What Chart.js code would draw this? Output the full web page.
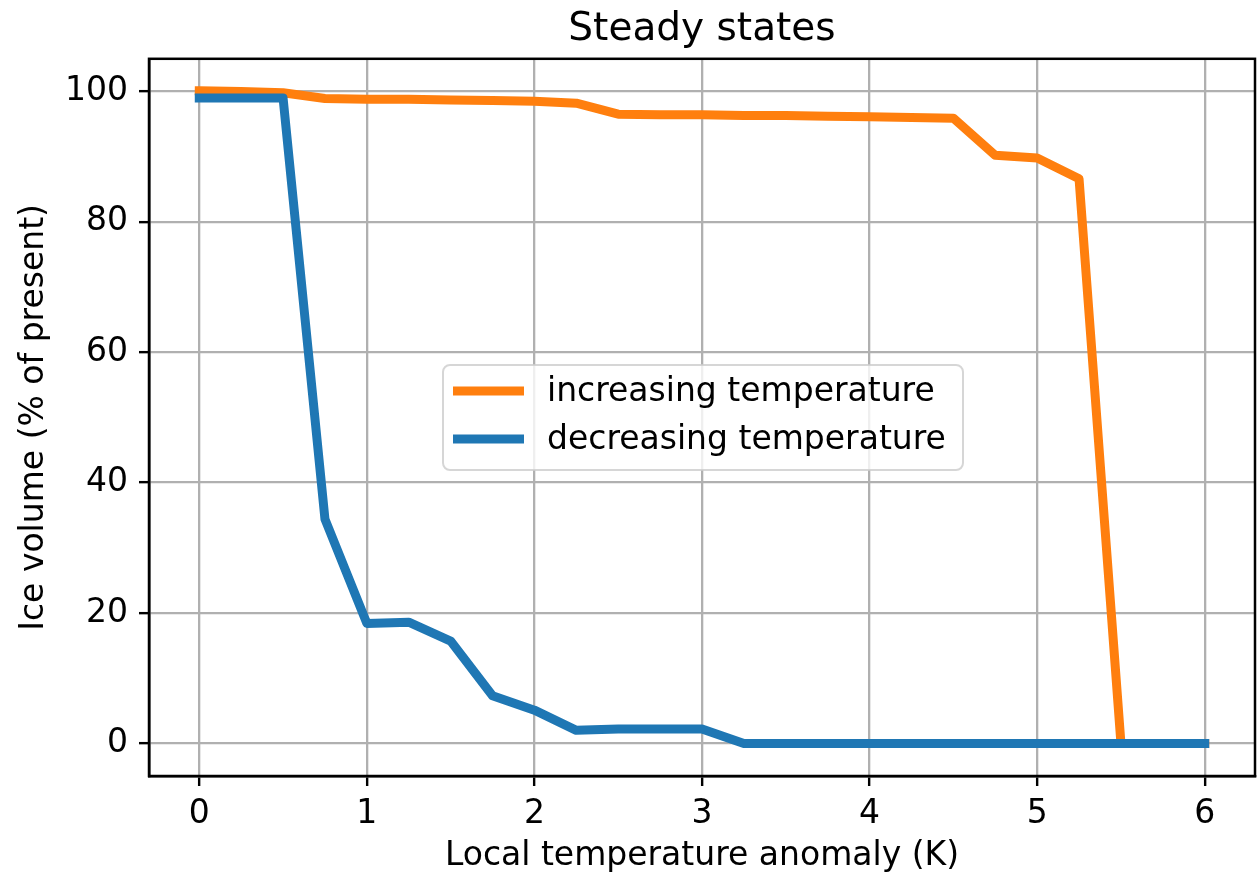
<!DOCTYPE html>
<html>
<head>
<meta charset="utf-8">
<script src="https://cdn.jsdelivr.net/npm/chart.js@4/dist/chart.umd.min.js"></script>
<style>
  body { margin: 0; background: #fff; }
</style>
</head>
<body>
<canvas id="chart" width="1259" height="876"></canvas>
<script>
// temperature anomaly (K)
const temps = [0, 0.25, 0.5, 0.75, 1, 1.25, 1.5, 1.75, 2, 2.25, 2.5, 2.75, 3,
               3.25, 3.5, 3.75, 4, 4.25, 4.5, 4.75, 5, 5.25, 5.5, 5.75, 6];
const increasing = [100.1, 100.0, 99.8, 98.9, 98.8, 98.8, 98.7, 98.6, 98.5, 98.2, 96.5, 96.4, 96.4,
                    96.3, 96.3, 96.2, 96.1, 96.0, 95.9, 90.2, 89.8, 86.6, 0, 0, 0];
const decreasing = [99.0, 99.0, 99.0, 34.4, 18.4, 18.6, 15.7, 7.3, 5.1, 2.0, 2.2, 2.2, 2.2,
                    0, 0, 0, 0, 0, 0, 0, 0, 0, 0, 0, 0];
const xTicks = [0, 1, 2, 3, 4, 5, 6];
const yTicks = [0, 20, 40, 60, 80, 100];

const font = "'DejaVu Sans', sans-serif";

function toPoints(ys) {
    let pts = [];
    for (let i = 0; i < temps.length; i++) {
        pts.push({x: temps[i], y: ys[i]});
    }
    return pts;
}

// frame round the plot area + legend inside it
const frameAndLegend = {
    id: 'frameAndLegend',
    afterDatasetsDraw(chart) {
        const ctx = chart.ctx;
        const a = chart.chartArea;
        ctx.save();
        ctx.strokeStyle = '#000';
        ctx.lineWidth = 2.5;
        ctx.strokeRect(a.left, a.top, a.right - a.left, a.bottom - a.top);

        // legend box
        const bx = 443, by = 365, bw = 520, bh = 105, r = 7;
        ctx.beginPath();
        ctx.roundRect(bx, by, bw, bh, r);
        ctx.fillStyle = 'rgba(255,255,255,0.8)';
        ctx.fill();
        ctx.strokeStyle = 'rgba(204,204,204,0.8)';
        ctx.lineWidth = 2;
        ctx.stroke();

        ctx.font = '33px ' + font;
        ctx.textBaseline = 'middle';
        ctx.textAlign = 'left';
        chart.data.datasets.forEach((ds, i) => {
            const y = 391 + i * 48;
            ctx.beginPath();
            ctx.moveTo(453, y);
            ctx.lineTo(524, y);
            ctx.strokeStyle = ds.borderColor;
            ctx.lineWidth = 9;
            ctx.lineCap = 'butt';
            ctx.stroke();
            ctx.fillStyle = '#000';
            ctx.fillText(ds.label, 547, y + 1);
        });
        ctx.restore();
    }
};

let ctx = document.querySelector('#chart').getContext('2d');
let myChart = new Chart(ctx, {
    type: 'line',
    data: {
        datasets: [{
            label: 'increasing temperature',
            data: toPoints(increasing),
            borderColor: '#ff7f0e',
            order: 1
        }, {
            label: 'decreasing temperature',
            data: toPoints(decreasing),
            borderColor: '#1f77b4',
            order: 0
        }]
    },
    options: {
        responsive: false,
        animation: false,
        devicePixelRatio: 1,
        layout: { padding: { left: 0, right: 4, top: 0, bottom: 0 } },
        elements: {
            point: { radius: 0 },
            line: { borderWidth: 9, tension: 0, borderCapStyle: 'square', borderJoinStyle: 'round', fill: false }
        },
        plugins: {
            legend: { display: false },
            tooltip: { enabled: false },
            title: {
                display: true,
                fullSize: false,
                text: 'Steady states',
                color: '#000',
                font: { family: font, size: 39, weight: 'normal' },
                padding: { top: 6, bottom: 6 }
            }
        },
        scales: {
            x: {
                type: 'linear',
                min: -0.3,
                max: 6.3,
                afterBuildTicks: (s) => { s.ticks = xTicks.map(v => ({value: v})); },
                afterFit: (s) => { s.height = 100; },
                ticks: {
                    color: '#000',
                    font: { family: font, size: 33 },
                    padding: 9,
                    maxRotation: 0
                },
                grid: { color: '#b0b0b0', lineWidth: 2.3, tickLength: 10, tickColor: '#000', tickWidth: 2.4 },
                border: { color: '#000', width: 2.5 },
                title: {
                    display: true,
                    text: 'Local temperature anomaly (K)',
                    color: '#000',
                    font: { family: font, size: 33 },
                    padding: { top: 0, bottom: 0 }
                }
            },
            y: {
                type: 'linear',
                min: -5,
                max: 105,
                afterBuildTicks: (s) => { s.ticks = yTicks.map(v => ({value: v})); },
                afterFit: (s) => { s.width = 149; },
                ticks: {
                    color: '#000',
                    font: { family: font, size: 33 },
                    padding: 11
                },
                grid: { color: '#b0b0b0', lineWidth: 2.3, tickLength: 10, tickColor: '#000', tickWidth: 2.4 },
                border: { color: '#000', width: 2.5 },
                title: {
                    display: true,
                    text: 'Ice volume (% of present)',
                    color: '#000',
                    font: { family: font, size: 33 },
                    padding: { top: 15, bottom: 0 }
                }
            }
        }
    },
    plugins: [frameAndLegend]
});
</script>
</body>
</html>
